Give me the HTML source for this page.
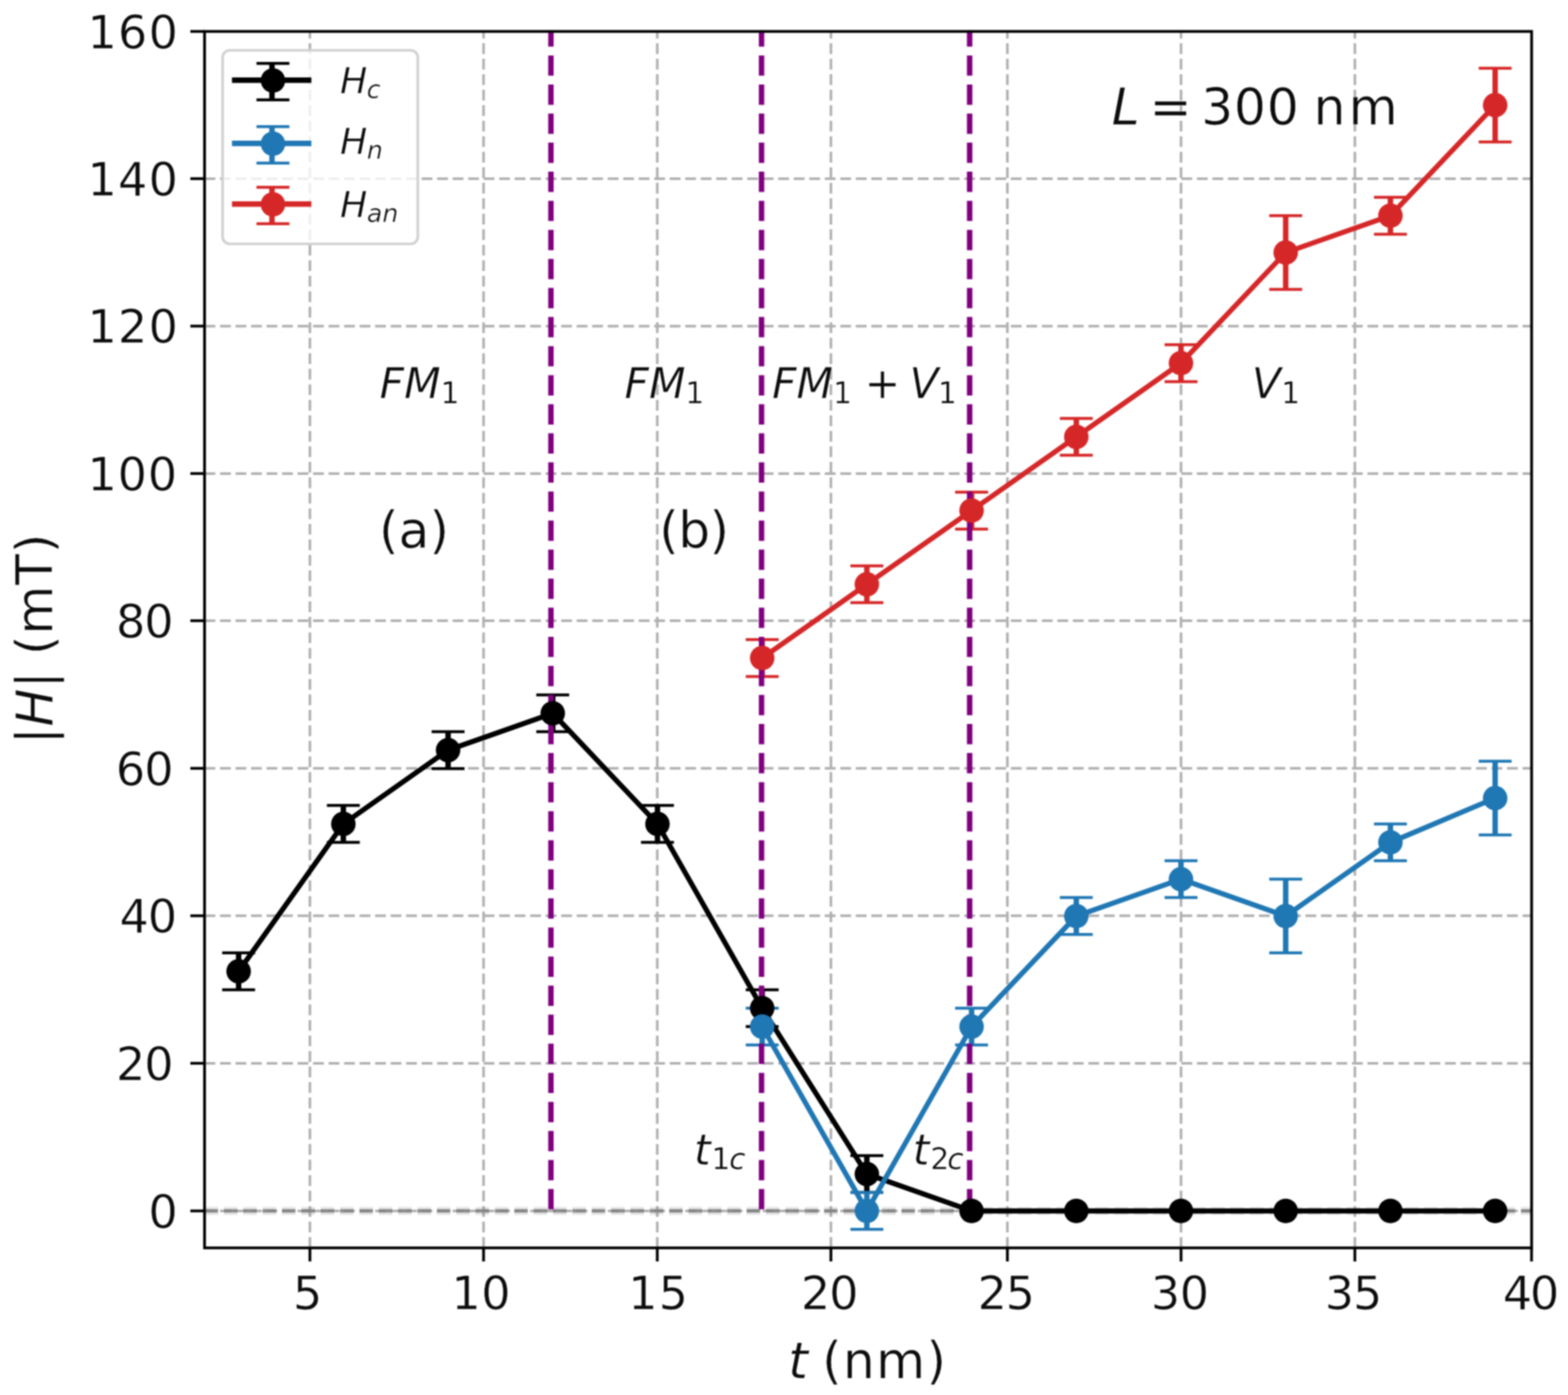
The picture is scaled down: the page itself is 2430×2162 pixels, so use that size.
<!DOCTYPE html>
<html lang="en">
<head>
<meta charset="utf-8">
<title>|H| (mT) versus t (nm), L = 300 nm</title>
<style>
html,body{margin:0;padding:0;background:#fff;}
body{width:2430px;height:2162px;overflow:hidden;}
svg{display:block;}
text{font-family:"DejaVu Sans","Liberation Sans",sans-serif;fill:#0c0c0c;stroke:#ffffff;stroke-width:0.7px;stroke-opacity:0.85;white-space:pre;}
.it{font-style:oblique;}
</style>
</head>
<body>
<svg width="2430" height="2162" viewBox="0 0 2430 2162">
<defs><filter id="soft" x="0" y="0" width="2430" height="2162" filterUnits="userSpaceOnUse" color-interpolation-filters="sRGB"><feGaussianBlur stdDeviation="1.2"/></filter></defs>
<rect x="0" y="0" width="2430" height="2162" fill="#ffffff"/>
<g filter="url(#soft)">
<rect x="0" y="0" width="2430" height="2162" fill="#ffffff"/>
<g stroke="#b0b0b0" stroke-width="4.0" stroke-dasharray="16.7 7.33" fill="none">
<line x1="480.3" y1="1934.0" x2="480.3" y2="48.7"/>
<line x1="749.4" y1="1934.0" x2="749.4" y2="48.7"/>
<line x1="1018.6" y1="1934.0" x2="1018.6" y2="48.7"/>
<line x1="1287.7" y1="1934.0" x2="1287.7" y2="48.7"/>
<line x1="1561.2" y1="1934.0" x2="1561.2" y2="48.7"/>
<line x1="1830.3" y1="1934.0" x2="1830.3" y2="48.7"/>
<line x1="2099.7" y1="1934.0" x2="2099.7" y2="48.7"/>
<line x1="317.0" y1="1876.7" x2="2373.6" y2="1876.7"/>
<line x1="317.0" y1="1647.9" x2="2373.6" y2="1647.9"/>
<line x1="317.0" y1="1419.3" x2="2373.6" y2="1419.3"/>
<line x1="317.0" y1="1190.8" x2="2373.6" y2="1190.8"/>
<line x1="317.0" y1="962.0" x2="2373.6" y2="962.0"/>
<line x1="317.0" y1="733.9" x2="2373.6" y2="733.9"/>
<line x1="317.0" y1="505.4" x2="2373.6" y2="505.4"/>
<line x1="317.0" y1="276.9" x2="2373.6" y2="276.9"/>
</g>
<g stroke="#000000" fill="none">
<line x1="369.8" y1="1534.0" x2="369.8" y2="1476.8" stroke-width="8.4"/>
<line x1="344.3" y1="1534.0" x2="395.3" y2="1534.0" stroke-width="4.5"/>
<line x1="344.3" y1="1476.8" x2="395.3" y2="1476.8" stroke-width="4.5"/>
<line x1="532.1" y1="1305.5" x2="532.1" y2="1248.3" stroke-width="8.4"/>
<line x1="506.6" y1="1305.5" x2="557.6" y2="1305.5" stroke-width="4.5"/>
<line x1="506.6" y1="1248.3" x2="557.6" y2="1248.3" stroke-width="4.5"/>
<line x1="694.4" y1="1191.2" x2="694.4" y2="1134.1" stroke-width="8.4"/>
<line x1="668.9" y1="1191.2" x2="719.9" y2="1191.2" stroke-width="4.5"/>
<line x1="668.9" y1="1134.1" x2="719.9" y2="1134.1" stroke-width="4.5"/>
<line x1="856.6" y1="1134.1" x2="856.6" y2="1077.0" stroke-width="8.4"/>
<line x1="831.1" y1="1134.1" x2="882.1" y2="1134.1" stroke-width="4.5"/>
<line x1="831.1" y1="1077.0" x2="882.1" y2="1077.0" stroke-width="4.5"/>
<line x1="1018.9" y1="1305.5" x2="1018.9" y2="1248.3" stroke-width="8.4"/>
<line x1="993.4" y1="1305.5" x2="1044.4" y2="1305.5" stroke-width="4.5"/>
<line x1="993.4" y1="1248.3" x2="1044.4" y2="1248.3" stroke-width="4.5"/>
<line x1="1181.2" y1="1591.1" x2="1181.2" y2="1534.0" stroke-width="8.4"/>
<line x1="1155.7" y1="1591.1" x2="1206.7" y2="1591.1" stroke-width="4.5"/>
<line x1="1155.7" y1="1534.0" x2="1206.7" y2="1534.0" stroke-width="4.5"/>
<line x1="1343.4" y1="1848.1" x2="1343.4" y2="1791.0" stroke-width="8.4"/>
<line x1="1317.9" y1="1848.1" x2="1368.9" y2="1848.1" stroke-width="4.5"/>
<line x1="1317.9" y1="1791.0" x2="1368.9" y2="1791.0" stroke-width="4.5"/>
</g>
<g stroke="#1f77b4" fill="none">
<line x1="1181.2" y1="1619.6" x2="1181.2" y2="1562.5" stroke-width="8.4"/>
<line x1="1155.7" y1="1619.6" x2="1206.7" y2="1619.6" stroke-width="4.5"/>
<line x1="1155.7" y1="1562.5" x2="1206.7" y2="1562.5" stroke-width="4.5"/>
<line x1="1343.4" y1="1905.3" x2="1343.4" y2="1848.1" stroke-width="8.4"/>
<line x1="1317.9" y1="1905.3" x2="1368.9" y2="1905.3" stroke-width="4.5"/>
<line x1="1317.9" y1="1848.1" x2="1368.9" y2="1848.1" stroke-width="4.5"/>
<line x1="1505.7" y1="1619.6" x2="1505.7" y2="1562.5" stroke-width="8.4"/>
<line x1="1480.2" y1="1619.6" x2="1531.2" y2="1619.6" stroke-width="4.5"/>
<line x1="1480.2" y1="1562.5" x2="1531.2" y2="1562.5" stroke-width="4.5"/>
<line x1="1668.0" y1="1448.3" x2="1668.0" y2="1391.1" stroke-width="8.4"/>
<line x1="1642.5" y1="1448.3" x2="1693.5" y2="1448.3" stroke-width="4.5"/>
<line x1="1642.5" y1="1391.1" x2="1693.5" y2="1391.1" stroke-width="4.5"/>
<line x1="1830.2" y1="1391.1" x2="1830.2" y2="1334.0" stroke-width="8.4"/>
<line x1="1804.8" y1="1391.1" x2="1855.8" y2="1391.1" stroke-width="4.5"/>
<line x1="1804.8" y1="1334.0" x2="1855.8" y2="1334.0" stroke-width="4.5"/>
<line x1="1992.5" y1="1476.8" x2="1992.5" y2="1362.6" stroke-width="8.4"/>
<line x1="1967.0" y1="1476.8" x2="2018.0" y2="1476.8" stroke-width="4.5"/>
<line x1="1967.0" y1="1362.6" x2="2018.0" y2="1362.6" stroke-width="4.5"/>
<line x1="2154.8" y1="1334.0" x2="2154.8" y2="1276.9" stroke-width="8.4"/>
<line x1="2129.3" y1="1334.0" x2="2180.3" y2="1334.0" stroke-width="4.5"/>
<line x1="2129.3" y1="1276.9" x2="2180.3" y2="1276.9" stroke-width="4.5"/>
<line x1="2317.1" y1="1294.0" x2="2317.1" y2="1179.8" stroke-width="8.4"/>
<line x1="2291.6" y1="1294.0" x2="2342.6" y2="1294.0" stroke-width="4.5"/>
<line x1="2291.6" y1="1179.8" x2="2342.6" y2="1179.8" stroke-width="4.5"/>
</g>
<g stroke="#d62728" fill="none">
<line x1="1181.2" y1="1048.4" x2="1181.2" y2="991.3" stroke-width="8.4"/>
<line x1="1155.7" y1="1048.4" x2="1206.7" y2="1048.4" stroke-width="4.5"/>
<line x1="1155.7" y1="991.3" x2="1206.7" y2="991.3" stroke-width="4.5"/>
<line x1="1343.4" y1="934.1" x2="1343.4" y2="877.0" stroke-width="8.4"/>
<line x1="1317.9" y1="934.1" x2="1368.9" y2="934.1" stroke-width="4.5"/>
<line x1="1317.9" y1="877.0" x2="1368.9" y2="877.0" stroke-width="4.5"/>
<line x1="1505.7" y1="819.9" x2="1505.7" y2="762.8" stroke-width="8.4"/>
<line x1="1480.2" y1="819.9" x2="1531.2" y2="819.9" stroke-width="4.5"/>
<line x1="1480.2" y1="762.8" x2="1531.2" y2="762.8" stroke-width="4.5"/>
<line x1="1668.0" y1="705.6" x2="1668.0" y2="648.5" stroke-width="8.4"/>
<line x1="1642.5" y1="705.6" x2="1693.5" y2="705.6" stroke-width="4.5"/>
<line x1="1642.5" y1="648.5" x2="1693.5" y2="648.5" stroke-width="4.5"/>
<line x1="1830.2" y1="591.4" x2="1830.2" y2="534.3" stroke-width="8.4"/>
<line x1="1804.8" y1="591.4" x2="1855.8" y2="591.4" stroke-width="4.5"/>
<line x1="1804.8" y1="534.3" x2="1855.8" y2="534.3" stroke-width="4.5"/>
<line x1="1992.5" y1="448.6" x2="1992.5" y2="334.3" stroke-width="8.4"/>
<line x1="1967.0" y1="448.6" x2="2018.0" y2="448.6" stroke-width="4.5"/>
<line x1="1967.0" y1="334.3" x2="2018.0" y2="334.3" stroke-width="4.5"/>
<line x1="2154.8" y1="362.9" x2="2154.8" y2="305.8" stroke-width="8.4"/>
<line x1="2129.3" y1="362.9" x2="2180.3" y2="362.9" stroke-width="4.5"/>
<line x1="2129.3" y1="305.8" x2="2180.3" y2="305.8" stroke-width="4.5"/>
<line x1="2317.1" y1="220.1" x2="2317.1" y2="105.8" stroke-width="8.4"/>
<line x1="2291.6" y1="220.1" x2="2342.6" y2="220.1" stroke-width="4.5"/>
<line x1="2291.6" y1="105.8" x2="2342.6" y2="105.8" stroke-width="4.5"/>
</g>
<line x1="317.0" y1="1876.7" x2="2373.6" y2="1876.7" stroke="#808080" stroke-width="12.5" stroke-dasharray="21 9" opacity="0.2"/>
<line x1="317.0" y1="1876.7" x2="2373.6" y2="1876.7" stroke="#808080" stroke-width="5.2" stroke-dasharray="21 9" opacity="0.85"/>
<g stroke="#800080" stroke-width="8.4" stroke-dasharray="31.45 13.6" stroke-dashoffset="-2.4" fill="none">
<line x1="853.8" y1="1876.7" x2="853.8" y2="48.7"/>
<line x1="1180.2" y1="1876.7" x2="1180.2" y2="48.7"/>
<line x1="1502.7" y1="1876.7" x2="1502.7" y2="48.7"/>
</g>
<g stroke="#000000" fill="#000000">
<polyline points="369.8,1505.4 532.1,1276.9 694.4,1162.6 856.6,1105.5 1018.9,1276.9 1181.2,1562.5 1343.4,1819.6 1505.7,1876.7 1668.0,1876.7 1830.2,1876.7 1992.5,1876.7 2154.8,1876.7 2317.1,1876.7" fill="none" stroke-width="7.9" stroke-linejoin="round"/>
<circle cx="369.8" cy="1505.4" r="19.0" stroke="none"/>
<circle cx="532.1" cy="1276.9" r="19.0" stroke="none"/>
<circle cx="694.4" cy="1162.6" r="19.0" stroke="none"/>
<circle cx="856.6" cy="1105.5" r="19.0" stroke="none"/>
<circle cx="1018.9" cy="1276.9" r="19.0" stroke="none"/>
<circle cx="1181.2" cy="1562.5" r="19.0" stroke="none"/>
<circle cx="1343.4" cy="1819.6" r="19.0" stroke="none"/>
<circle cx="1505.7" cy="1876.7" r="19.0" stroke="none"/>
<circle cx="1668.0" cy="1876.7" r="19.0" stroke="none"/>
<circle cx="1830.2" cy="1876.7" r="19.0" stroke="none"/>
<circle cx="1992.5" cy="1876.7" r="19.0" stroke="none"/>
<circle cx="2154.8" cy="1876.7" r="19.0" stroke="none"/>
<circle cx="2317.1" cy="1876.7" r="19.0" stroke="none"/>
</g>
<g stroke="#1f77b4" fill="#1f77b4">
<polyline points="1181.2,1591.1 1343.4,1876.7 1505.7,1591.1 1668.0,1419.7 1830.2,1362.6 1992.5,1419.7 2154.8,1305.5 2317.1,1236.9" fill="none" stroke-width="7.9" stroke-linejoin="round"/>
<circle cx="1181.2" cy="1591.1" r="19.0" stroke="none"/>
<circle cx="1343.4" cy="1876.7" r="19.0" stroke="none"/>
<circle cx="1505.7" cy="1591.1" r="19.0" stroke="none"/>
<circle cx="1668.0" cy="1419.7" r="19.0" stroke="none"/>
<circle cx="1830.2" cy="1362.6" r="19.0" stroke="none"/>
<circle cx="1992.5" cy="1419.7" r="19.0" stroke="none"/>
<circle cx="2154.8" cy="1305.5" r="19.0" stroke="none"/>
<circle cx="2317.1" cy="1236.9" r="19.0" stroke="none"/>
</g>
<g stroke="#d62728" fill="#d62728">
<polyline points="1181.2,1019.8 1343.4,905.6 1505.7,791.3 1668.0,677.1 1830.2,562.8 1992.5,391.4 2154.8,334.3 2317.1,162.9" fill="none" stroke-width="7.9" stroke-linejoin="round"/>
<circle cx="1181.2" cy="1019.8" r="19.0" stroke="none"/>
<circle cx="1343.4" cy="905.6" r="19.0" stroke="none"/>
<circle cx="1505.7" cy="791.3" r="19.0" stroke="none"/>
<circle cx="1668.0" cy="677.1" r="19.0" stroke="none"/>
<circle cx="1830.2" cy="562.8" r="19.0" stroke="none"/>
<circle cx="1992.5" cy="391.4" r="19.0" stroke="none"/>
<circle cx="2154.8" cy="334.3" r="19.0" stroke="none"/>
<circle cx="2317.1" cy="162.9" r="19.0" stroke="none"/>
</g>
<rect x="317.0" y="48.7" width="2056.6" height="1885.3" fill="none" stroke="#000" stroke-width="4.3"/>
<g stroke="#000" stroke-width="4.3">
<line x1="480.3" y1="1934.0" x2="480.3" y2="1955.0"/>
<line x1="749.4" y1="1934.0" x2="749.4" y2="1955.0"/>
<line x1="1018.6" y1="1934.0" x2="1018.6" y2="1955.0"/>
<line x1="1287.7" y1="1934.0" x2="1287.7" y2="1955.0"/>
<line x1="1561.2" y1="1934.0" x2="1561.2" y2="1955.0"/>
<line x1="1830.3" y1="1934.0" x2="1830.3" y2="1955.0"/>
<line x1="2099.7" y1="1934.0" x2="2099.7" y2="1955.0"/>
<line x1="2373.5" y1="1934.0" x2="2373.5" y2="1955.0"/>
<line x1="295.0" y1="1876.7" x2="317.0" y2="1876.7"/>
<line x1="295.0" y1="1647.9" x2="317.0" y2="1647.9"/>
<line x1="295.0" y1="1419.3" x2="317.0" y2="1419.3"/>
<line x1="295.0" y1="1190.8" x2="317.0" y2="1190.8"/>
<line x1="295.0" y1="962.0" x2="317.0" y2="962.0"/>
<line x1="295.0" y1="733.9" x2="317.0" y2="733.9"/>
<line x1="295.0" y1="505.4" x2="317.0" y2="505.4"/>
<line x1="295.0" y1="276.9" x2="317.0" y2="276.9"/>
<line x1="295.0" y1="48.7" x2="317.0" y2="48.7"/>
</g>
<g font-size="71.5">
<text x="454.0" y="2029.0">5</text>
<text x="699.4" y="2029.0" letter-spacing="0.82">10</text>
<text x="973.4" y="2029.0" letter-spacing="1.92">15</text>
<text x="1241.2" y="2029.0" letter-spacing="-1.80">20</text>
<text x="1515.1" y="2029.0" letter-spacing="-1.99">25</text>
<text x="1783.6" y="2029.0" letter-spacing="-0.89">30</text>
<text x="2053.1" y="2029.0" letter-spacing="-1.79">35</text>
<text x="2329.0" y="2029.0" letter-spacing="-3.54">40</text>
<text x="230.0" y="1902.7">0</text>
<text x="179.7" y="1673.9" letter-spacing="-1.70">20</text>
<text x="185.3" y="1445.3" letter-spacing="-1.74">40</text>
<text x="179.6" y="1216.8" letter-spacing="-1.54">60</text>
<text x="179.7" y="988.0" letter-spacing="-1.68">80</text>
<text x="135.5" y="759.9" letter-spacing="1.32">100</text>
<text x="135.4" y="531.4" letter-spacing="1.92">120</text>
<text x="135.4" y="302.9" letter-spacing="1.92">140</text>
<text x="135.4" y="74.7" letter-spacing="1.92">160</text>
</g>
<text y="2135.5"><tspan x="1221.4" font-size="78.0" class="it">t</tspan><tspan x="1273.9" font-size="78.0" letter-spacing="2.0">(nm)</tspan></text>
<text transform="translate(81,1145.0) rotate(-90)" y="0"><tspan x="-8.3" font-size="78.0">|</tspan><tspan x="18.9" font-size="78.0" class="it">H</tspan><tspan x="78.2" font-size="78.0">|</tspan><tspan x="129.8" font-size="78.0" letter-spacing="1.2">(mT)</tspan></text>
<text y="617.3"><tspan x="588.3" font-size="65.8" class="it">FM</tspan><tspan x="682.7" font-size="46.1" dy="7.8">1</tspan></text>
<text y="617.3"><tspan x="967.8" font-size="65.8" class="it">FM</tspan><tspan x="1062.0" font-size="46.1" dy="7.8">1</tspan></text>
<text y="617.3"><tspan x="1196.5" font-size="65.8" class="it">FM</tspan><tspan x="1290.9" font-size="46.1" dy="7.8">1</tspan><tspan x="1340.1" font-size="65.8" dy="-7.8">+</tspan><tspan x="1409.5" font-size="65.8" class="it">V</tspan><tspan x="1453.5" font-size="46.1" dy="7.8">1</tspan></text>
<text y="617.3"><tspan x="1940.0" font-size="65.8" class="it">V</tspan><tspan x="1985.5" font-size="46.1" dy="7.8">1</tspan></text>
<text y="848.5"><tspan x="587.2" font-size="78.0">(a)</tspan></text>
<text y="848.5"><tspan x="1021.6" font-size="78.0" letter-spacing="-1.0">(b)</tspan></text>
<text y="192.5"><tspan x="1722.7" font-size="78.0" class="it">L</tspan><tspan x="1781.4" font-size="78.0">=</tspan><tspan x="1861.4" font-size="78.0" letter-spacing="1.3">300</tspan><tspan x="2035.7" font-size="78.0" letter-spacing="5.0">nm</tspan></text>
<text y="1804.5"><tspan x="1075.6" font-size="65.8" class="it">t</tspan><tspan x="1102.5" font-size="46.1" dy="7.8">1</tspan><tspan x="1129.9" font-size="46.1" class="it">c</tspan></text>
<text y="1804.5"><tspan x="1414.6" font-size="65.8" class="it">t</tspan><tspan x="1441.8" font-size="46.1" dy="7.8">2</tspan><tspan x="1468.1" font-size="46.1" class="it">c</tspan></text>
<rect x="345" y="78" width="302.5" height="300" rx="11" ry="11" fill="#ffffff" fill-opacity="0.8" stroke="#d2d2d2" stroke-width="4.2"/>
<g stroke="#000000" fill="#000000">
<line x1="359.5" y1="124.2" x2="482.5" y2="124.2" stroke-width="8.4"/>
<line x1="421.5" y1="98.2" x2="421.5" y2="154.7" stroke-width="8.4"/>
<line x1="397.5" y1="98.2" x2="448.5" y2="98.2" stroke-width="4.5"/>
<line x1="397.5" y1="154.7" x2="448.5" y2="154.7" stroke-width="4.5"/>
<circle cx="423" cy="124.7" r="19.0" stroke="none"/>
</g>
<text y="144.0"><tspan x="526.9" font-size="56.0" class="it">H</tspan><tspan x="568.2" font-size="39.2" class="it" dy="8.3">c</tspan></text>
<g stroke="#1f77b4" fill="#1f77b4">
<line x1="359.5" y1="222.2" x2="482.5" y2="222.2" stroke-width="8.4"/>
<line x1="421.5" y1="196.2" x2="421.5" y2="252.7" stroke-width="8.4"/>
<line x1="397.5" y1="196.2" x2="448.5" y2="196.2" stroke-width="4.5"/>
<line x1="397.5" y1="252.7" x2="448.5" y2="252.7" stroke-width="4.5"/>
<circle cx="423" cy="222.7" r="19.0" stroke="none"/>
</g>
<text y="238.0"><tspan x="526.9" font-size="56.0" class="it">H</tspan><tspan x="568.6" font-size="39.2" class="it" dy="8.3">n</tspan></text>
<g stroke="#d62728" fill="#d62728">
<line x1="359.5" y1="316.2" x2="482.5" y2="316.2" stroke-width="8.4"/>
<line x1="421.5" y1="290.2" x2="421.5" y2="346.7" stroke-width="8.4"/>
<line x1="397.5" y1="290.2" x2="448.5" y2="290.2" stroke-width="4.5"/>
<line x1="397.5" y1="346.7" x2="448.5" y2="346.7" stroke-width="4.5"/>
<circle cx="423" cy="316.7" r="19.0" stroke="none"/>
</g>
<text y="336.0"><tspan x="526.9" font-size="56.0" class="it">H</tspan><tspan x="568.4" font-size="39.2" class="it" dy="8.3">an</tspan></text>
</g>
</svg>
</body>
</html>
